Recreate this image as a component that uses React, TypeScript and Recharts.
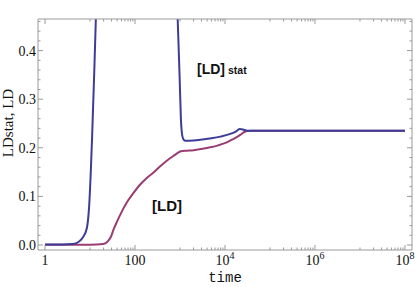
import React from 'react';
import { LineChart, Line, XAxis, YAxis } from 'recharts';

// log10(time) and values
const statLogT = [0, 0.4, 0.6, 0.7, 0.78, 0.85, 0.93, 0.98, 1.016, 1.044, 1.085, 1.127, 1.16, 2.9, 2.95, 2.99, 3.02, 3.05, 3.08, 3.12, 3.3, 3.5, 3.7, 3.9, 4.1, 4.25, 4.33, 4.4, 4.47, 4.55, 5, 6, 7, 8];
const statVal = [0.001, 0.001, 0.002, 0.004, 0.009, 0.017, 0.035, 0.079, 0.148, 0.216, 0.33, 0.457, 0.6, 0.6, 0.46, 0.35, 0.26, 0.225, 0.217, 0.2146, 0.215, 0.217, 0.2195, 0.223, 0.228, 0.234, 0.2385, 0.2375, 0.2355, 0.235, 0.235, 0.235, 0.235, 0.235];

const ldLogT = [0, 1.0, 1.3, 1.4, 1.47, 1.52, 1.6, 1.67, 1.82, 1.95, 2.11, 2.25, 2.41, 2.56, 2.7, 2.85, 2.96, 3.02, 3.15, 3.3, 3.5, 3.67, 3.85, 4.04, 4.2, 4.33, 4.42, 4.5, 4.6, 5, 6, 7, 8];
const ldVal = [0.0005, 0.0005, 0.002, 0.008, 0.018, 0.031, 0.048, 0.062, 0.088, 0.105, 0.124, 0.137, 0.149, 0.162, 0.173, 0.183, 0.19, 0.193, 0.194, 0.195, 0.198, 0.201, 0.205, 0.211, 0.219, 0.226, 0.232, 0.2346, 0.235, 0.235, 0.235, 0.235, 0.235];

const xMajor = [0, 2, 4, 6, 8];
const xMajorBase = ['1', '100', '10', '10', '10'];
const xMajorExp = ['', '', '4', '6', '8'];
const yMajor = [0, 0.1, 0.2, 0.3, 0.4];
const yMajorLabels = ['0.0', '0.1', '0.2', '0.3', '0.4'];

const xMinor: number[] = [];
[1, 3, 5, 7].forEach((d) => {
  for (let k = 1; k <= 9; k++) xMinor.push(d + Math.log10(k));
});
const xTicks = [...xMajor, ...xMinor].sort((a, b) => a - b);
const yTicks: number[] = [];
for (let i = 0; i <= 23; i++) yTicks.push(Math.round(i * 2) / 100);

const statData = statLogT.map((x, i) => ({ x, y: statVal[i] }));
const ldData = ldLogT.map((x, i) => ({ x, y: ldVal[i] }));

const FRAME = '#9a9a9a';
const BLUE = '#3d3d99';
const PURPLE = '#993d74';
const XDOM: [number, number] = [-0.156, 8.156];
const YDOM: [number, number] = [-0.0103, 0.465];

const isMajorX = (v: number) => xMajor.indexOf(v) >= 0;
const isMajorY = (v: number) => yMajor.some((m) => Math.abs(m - v) < 1e-9);

const BottomTick = (p: any) => {
  const { x, y, payload } = p;
  const v = payload.value;
  const major = isMajorX(v);
  const idx = xMajor.indexOf(v);
  return (
    <g>
      <line x1={x} x2={x} y1={y} y2={y - (major ? 5 : 2.5)} stroke={FRAME} strokeWidth={1} />
      {major && (
        <text x={x} y={y + 15} textAnchor="middle" fontFamily="'Liberation Serif', serif" fontSize={14} fill="#111">
          <tspan>{xMajorBase[idx]}</tspan>
          {xMajorExp[idx] && (
            <tspan dy={-6} fontSize={10}>{xMajorExp[idx]}</tspan>
          )}
        </text>
      )}
    </g>
  );
};

const TopTick = (p: any) => {
  const { x, y, payload } = p;
  const major = isMajorX(payload.value);
  return <line x1={x} x2={x} y1={y} y2={y + (major ? 5 : 2.5)} stroke={FRAME} strokeWidth={1} />;
};

const LeftTick = (p: any) => {
  const { x, y, payload } = p;
  const v = payload.value;
  const major = isMajorY(v);
  const idx = yMajor.findIndex((m) => Math.abs(m - v) < 1e-9);
  return (
    <g>
      <line x1={x} x2={x + (major ? 5 : 2.5)} y1={y} y2={y} stroke={FRAME} strokeWidth={1} />
      {major && (
        <text x={x - 2} y={y + 5} textAnchor="end" fontFamily="'Liberation Serif', serif" fontSize={14} fill="#111">
          {yMajorLabels[idx]}
        </text>
      )}
    </g>
  );
};

const RightTick = (p: any) => {
  const { x, y, payload } = p;
  const major = isMajorY(payload.value);
  return <line x1={x} x2={x - (major ? 5 : 2.5)} y1={y} y2={y} stroke={FRAME} strokeWidth={1} />;
};

export default function App() {
  return (
    <div style={{ position: 'absolute', left: 0, top: 0, width: 415, height: 287, background: '#fff' }}>
      <LineChart width={415} height={287} margin={{ top: 0, right: 0, bottom: 0, left: 0 }}>
        <XAxis
          xAxisId={0}
          type="number"
          dataKey="x"
          domain={XDOM}
          allowDataOverflow
          ticks={xTicks}
          interval={0}
          tick={<BottomTick />}
          tickLine={false}
          tickSize={0}
          tickMargin={0}
          height={37}
          axisLine={{ stroke: FRAME }}
        />
        <XAxis
          xAxisId="top"
          orientation="top"
          type="number"
          dataKey="x"
          domain={XDOM}
          allowDataOverflow
          ticks={xTicks}
          interval={0}
          tick={<TopTick />}
          tickLine={false}
          tickSize={0}
          tickMargin={0}
          height={19}
          axisLine={{ stroke: FRAME }}
        />
        <YAxis
          yAxisId={0}
          type="number"
          domain={YDOM}
          allowDataOverflow
          ticks={yTicks}
          interval={0}
          tick={<LeftTick />}
          tickLine={false}
          tickSize={0}
          tickMargin={0}
          width={38}
          axisLine={{ stroke: FRAME }}
        />
        <YAxis
          yAxisId="right"
          orientation="right"
          type="number"
          domain={YDOM}
          allowDataOverflow
          ticks={yTicks}
          interval={0}
          tick={<RightTick />}
          tickLine={false}
          tickSize={0}
          tickMargin={0}
          width={3}
          axisLine={{ stroke: FRAME }}
        />
        <Line
          data={ldData}
          dataKey="y"
          type="monotone"
          stroke={PURPLE}
          strokeWidth={2}
          dot={false}
          isAnimationActive={false}
        />
        <Line
          data={statData}
          dataKey="y"
          type="monotone"
          stroke={BLUE}
          strokeWidth={2}
          dot={false}
          isAnimationActive={false}
        />
      </LineChart>
      <svg width={415} height={287} style={{ position: 'absolute', left: 0, top: 0, pointerEvents: 'none' }}>
        <text
          transform="translate(13,123) rotate(-90)"
          textAnchor="middle"
          fontFamily="'Liberation Serif', serif"
          fontSize={15}
          fill="#111"
        >
          LDstat,  LD
        </text>
        <text x={225} y={282} textAnchor="middle" fontFamily="'Liberation Mono', monospace" fontSize={14} fill="#111">
          time
        </text>
        <text x={197} y={74} fontFamily="'Liberation Sans', Arial, sans-serif" fontWeight="bold" fontSize={14} fill="#111">
          [LD]
          <tspan dx={3} fontSize={10.5}>stat</tspan>
        </text>
        <text x={152} y={211} fontFamily="'Liberation Sans', Arial, sans-serif" fontWeight="bold" fontSize={15} fill="#111">
          [LD]
        </text>
      </svg>
    </div>
  );
}
